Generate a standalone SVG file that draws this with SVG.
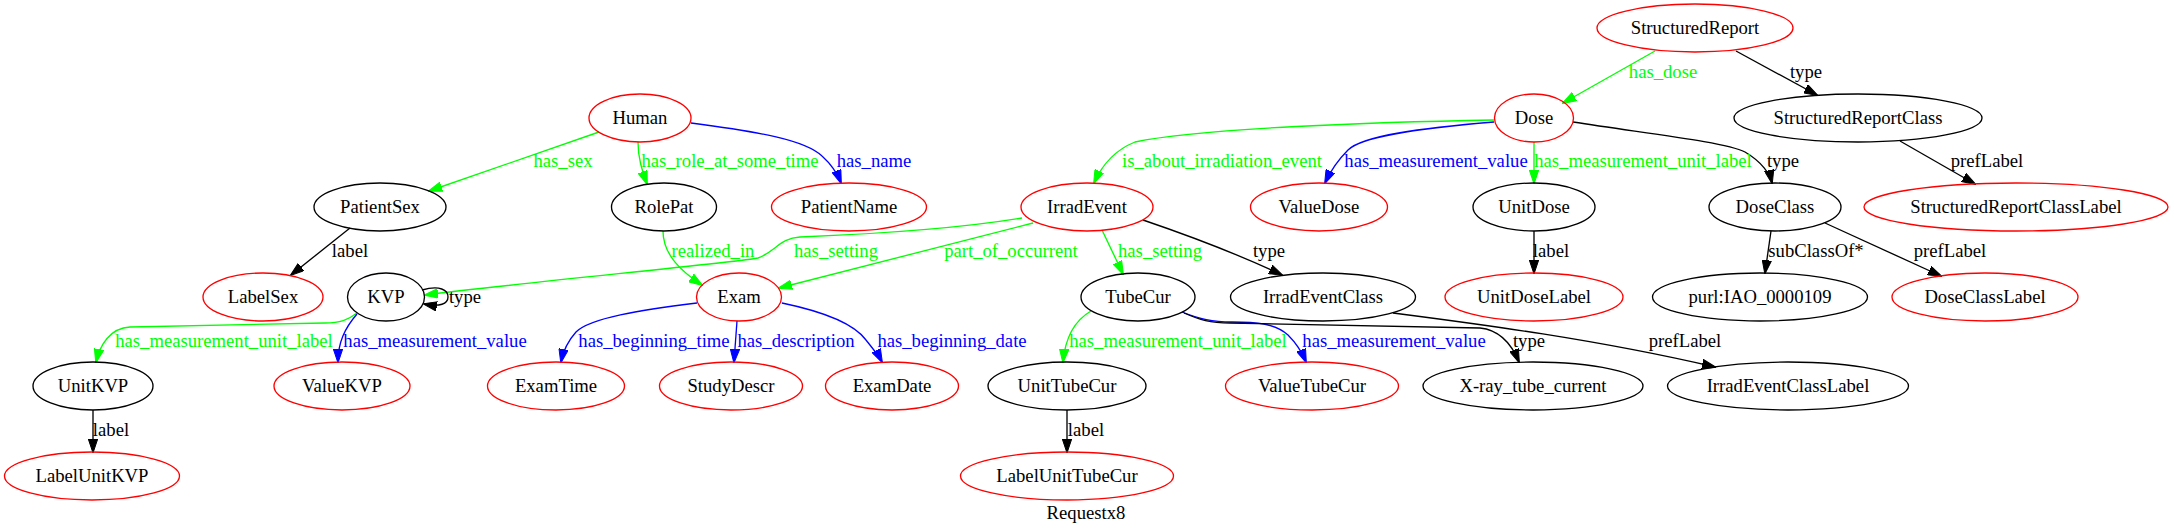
<svg xmlns="http://www.w3.org/2000/svg" width="2174" height="531" viewBox="0 0 2174 531">
<style>
.n ellipse{fill:none;stroke-width:1.33}
.r ellipse{stroke:#ff0000}
.b ellipse{stroke:#000000}
text{font-family:"Liberation Serif","Times New Roman",serif;font-size:18.67px;text-anchor:middle}
.n text{fill:#000}
#edges path{fill:none;stroke-width:1.33}
.k{stroke:#000}
.g{stroke:#00ff00}
.u{stroke:#0000ff}
.tk{fill:#000}
.tg{fill:#00ff00}
.tu{fill:#0000ff}
</style>
<defs>
<marker id="ak" viewBox="0 0 14 10" refX="13" refY="5" markerWidth="14" markerHeight="10" markerUnits="userSpaceOnUse" orient="auto"><path d="M0,0.3 L14,5 L0,9.7z" fill="#000" stroke="#000" stroke-width="1"/></marker>
<marker id="ag" viewBox="0 0 14 10" refX="13" refY="5" markerWidth="14" markerHeight="10" markerUnits="userSpaceOnUse" orient="auto"><path d="M0,0.3 L14,5 L0,9.7z" fill="#00ff00" stroke="#00ff00" stroke-width="1"/></marker>
<marker id="au" viewBox="0 0 14 10" refX="13" refY="5" markerWidth="14" markerHeight="10" markerUnits="userSpaceOnUse" orient="auto"><path d="M0,0.3 L14,5 L0,9.7z" fill="#0000ff" stroke="#0000ff" stroke-width="1"/></marker>
</defs>
<rect width="2174" height="531" fill="#fff"/>
<g id="edges">
<path class="g" marker-end="url(#ag)" d="M1655,51 L1563,103"/>
<text class="tg" x="1663" y="78">has_dose</text>
<path class="k" marker-end="url(#ak)" d="M1736,51 L1817,95"/>
<text class="tk" x="1806" y="78">type</text>
<path class="k" marker-end="url(#ak)" d="M1900,141 L1975,184"/>
<text class="tk" x="1987" y="167">prefLabel</text>
<path class="k" marker-end="url(#ak)" d="M1573,122 C1650,134 1725,142 1745,152 C1762,162 1770,174 1772,183"/>
<text class="tk" x="1783" y="167">type</text>
<path class="g" marker-end="url(#ag)" d="M1534,142 L1534,183"/>
<text class="tg" x="1643" y="167">has_measurement_unit_label</text>
<path class="u" marker-end="url(#au)" d="M1494,122 C1420,128 1362,136 1348,150 C1338,160 1330,172 1325,183"/>
<text class="tu" x="1436" y="167">has_measurement_value</text>
<path class="g" marker-end="url(#ag)" d="M1494,120 C1380,122 1200,128 1135,142 C1115,150 1102,165 1094,183"/>
<text class="tg" x="1222" y="167">is_about_irradiation_event</text>
<path class="g" marker-end="url(#ag)" d="M599,132 L429,191"/>
<text class="tg" x="563" y="167">has_sex</text>
<path class="g" marker-end="url(#ag)" d="M638,142 C638,158 642,170 647,184"/>
<text class="tg" x="730" y="167">has_role_at_some_time</text>
<path class="u" marker-end="url(#au)" d="M691,123 C760,132 805,140 822,156 C832,165 838,175 841,183"/>
<text class="tu" x="874" y="167">has_name</text>
<path class="k" marker-end="url(#ak)" d="M350,228 L291,275"/>
<text class="tk" x="350" y="257">label</text>
<path class="g" marker-end="url(#ag)" d="M663,231 C663,255 682,272 702,285"/>
<text class="tg" x="713" y="257">realized_in</text>
<path class="g" marker-end="url(#ag)" d="M1022,218 C950,230 850,235 800,237 C780,238 775,252 758,258 C740,262 520,283 425,295"/>
<text class="tg" x="836" y="257">has_setting</text>
<path class="g" marker-end="url(#ag)" d="M1033,223 L779,288"/>
<text class="tg" x="1011" y="257">part_of_occurrent</text>
<path class="g" marker-end="url(#ag)" d="M1102,230 L1123,274"/>
<text class="tg" x="1160" y="257">has_setting</text>
<path class="k" marker-end="url(#ak)" d="M1143,220 C1190,236 1240,255 1282,275"/>
<text class="tk" x="1269" y="257">type</text>
<path class="k" marker-end="url(#ak)" d="M1534,231 L1534,273"/>
<text class="tk" x="1551" y="257">label</text>
<path class="k" marker-end="url(#ak)" d="M1771,231 L1765,273"/>
<text class="tk" x="1816" y="257">subClassOf*</text>
<path class="k" marker-end="url(#ak)" d="M1825,223 L1941,276"/>
<text class="tk" x="1950" y="257">prefLabel</text>
<path class="k" marker-end="url(#ak)" d="M422,290 C440,285 448,290 448,297 C448,304 440,307 424,304"/>
<text class="tk" x="465" y="303">type</text>
<path class="g" marker-end="url(#ag)" d="M357,313 C348,320 340,323 325,323 L130,327 C110,328 100,345 96,362"/>
<text class="tg" x="224" y="347">has_measurement_unit_label</text>
<path class="u" marker-end="url(#au)" d="M357,314 C345,328 338,342 338,362"/>
<text class="tu" x="435" y="347">has_measurement_value</text>
<path class="k" marker-end="url(#ak)" d="M93,410 L93,452"/>
<text class="tk" x="111" y="436">label</text>
<path class="u" marker-end="url(#au)" d="M697,303 C640,310 590,318 576,332 C567,342 563,352 561,362"/>
<text class="tu" x="654" y="347">has_beginning_time</text>
<path class="u" marker-end="url(#au)" d="M737,321 L734,362"/>
<text class="tu" x="796" y="347">has_description</text>
<path class="u" marker-end="url(#au)" d="M782,303 C830,313 855,325 866,340 C874,350 879,356 882,362"/>
<text class="tu" x="952" y="347">has_beginning_date</text>
<path class="g" marker-end="url(#ag)" d="M1091,311 C1072,322 1065,340 1063,362"/>
<text class="tg" x="1178" y="347">has_measurement_unit_label</text>
<path class="u" marker-end="url(#au)" d="M1182,312 C1200,319 1212,322 1232,322 C1255,322 1275,323 1288,335 C1296,343 1302,352 1306,362"/>
<text class="tu" x="1394" y="347">has_measurement_value</text>
<path class="k" marker-end="url(#ak)" d="M1184,313 C1200,320 1210,323 1230,323 L1480,328 C1500,330 1512,345 1519,362"/>
<text class="tk" x="1529" y="347">type</text>
<path class="k" marker-end="url(#ak)" d="M1393,313 C1470,323 1590,338 1715,367"/>
<text class="tk" x="1685" y="347">prefLabel</text>
<path class="k" marker-end="url(#ak)" d="M1067,410 L1067,452"/>
<text class="tk" x="1086" y="436">label</text>
</g>
<g id="StructuredReport" class="n r"><ellipse cx="1695" cy="28" rx="98" ry="24"/><text x="1695" y="34">StructuredReport</text></g>
<g id="Human" class="n r"><ellipse cx="640" cy="118" rx="51" ry="24"/><text x="640" y="124">Human</text></g>
<g id="Dose" class="n r"><ellipse cx="1534" cy="118" rx="39.5" ry="24"/><text x="1534" y="124">Dose</text></g>
<g id="StructuredReportClass" class="n b"><ellipse cx="1858" cy="118" rx="124" ry="24"/><text x="1858" y="124">StructuredReportClass</text></g>
<g id="PatientSex" class="n b"><ellipse cx="380" cy="207" rx="66" ry="24"/><text x="380" y="213">PatientSex</text></g>
<g id="RolePat" class="n b"><ellipse cx="664" cy="207" rx="52.5" ry="24"/><text x="664" y="213">RolePat</text></g>
<g id="PatientName" class="n r"><ellipse cx="849" cy="207" rx="77.5" ry="24"/><text x="849" y="213">PatientName</text></g>
<g id="IrradEvent" class="n r"><ellipse cx="1087" cy="207" rx="66" ry="24"/><text x="1087" y="213">IrradEvent</text></g>
<g id="ValueDose" class="n r"><ellipse cx="1319" cy="207" rx="68.5" ry="24"/><text x="1319" y="213">ValueDose</text></g>
<g id="UnitDose" class="n b"><ellipse cx="1534" cy="207" rx="61" ry="24"/><text x="1534" y="213">UnitDose</text></g>
<g id="DoseClass" class="n b"><ellipse cx="1775" cy="207" rx="66" ry="24"/><text x="1775" y="213">DoseClass</text></g>
<g id="StructuredReportClassLabel" class="n r"><ellipse cx="2016" cy="207" rx="152" ry="24"/><text x="2016" y="213">StructuredReportClassLabel</text></g>
<g id="LabelSex" class="n r"><ellipse cx="263" cy="297" rx="60" ry="24"/><text x="263" y="303">LabelSex</text></g>
<g id="KVP" class="n b"><ellipse cx="386" cy="297" rx="38.5" ry="24"/><text x="386" y="303">KVP</text></g>
<g id="Exam" class="n r"><ellipse cx="739" cy="297" rx="42.5" ry="24"/><text x="739" y="303">Exam</text></g>
<g id="TubeCur" class="n b"><ellipse cx="1138" cy="297" rx="57" ry="24"/><text x="1138" y="303">TubeCur</text></g>
<g id="IrradEventClass" class="n b"><ellipse cx="1323" cy="297" rx="92.5" ry="24"/><text x="1323" y="303">IrradEventClass</text></g>
<g id="UnitDoseLabel" class="n r"><ellipse cx="1534" cy="297" rx="89" ry="24"/><text x="1534" y="303">UnitDoseLabel</text></g>
<g id="purl_IAO_0000109" class="n b"><ellipse cx="1760" cy="297" rx="107.5" ry="24"/><text x="1760" y="303">purl:IAO_0000109</text></g>
<g id="DoseClassLabel" class="n r"><ellipse cx="1985" cy="297" rx="93" ry="24"/><text x="1985" y="303">DoseClassLabel</text></g>
<g id="UnitKVP" class="n b"><ellipse cx="93" cy="386" rx="60" ry="24"/><text x="93" y="392">UnitKVP</text></g>
<g id="ValueKVP" class="n r"><ellipse cx="342" cy="386" rx="68" ry="24"/><text x="342" y="392">ValueKVP</text></g>
<g id="ExamTime" class="n r"><ellipse cx="556" cy="386" rx="68.5" ry="24"/><text x="556" y="392">ExamTime</text></g>
<g id="StudyDescr" class="n r"><ellipse cx="731" cy="386" rx="71.5" ry="24"/><text x="731" y="392">StudyDescr</text></g>
<g id="ExamDate" class="n r"><ellipse cx="892" cy="386" rx="66.5" ry="24"/><text x="892" y="392">ExamDate</text></g>
<g id="UnitTubeCur" class="n b"><ellipse cx="1067" cy="386" rx="79" ry="24"/><text x="1067" y="392">UnitTubeCur</text></g>
<g id="ValueTubeCur" class="n r"><ellipse cx="1312" cy="386" rx="86.5" ry="24"/><text x="1312" y="392">ValueTubeCur</text></g>
<g id="X-ray_tube_current" class="n b"><ellipse cx="1533" cy="386" rx="110" ry="24"/><text x="1533" y="392">X-ray_tube_current</text></g>
<g id="IrradEventClassLabel" class="n b"><ellipse cx="1788" cy="386" rx="120.5" ry="24"/><text x="1788" y="392">IrradEventClassLabel</text></g>
<g id="LabelUnitKVP" class="n r"><ellipse cx="92" cy="476" rx="87.5" ry="24"/><text x="92" y="482">LabelUnitKVP</text></g>
<g id="LabelUnitTubeCur" class="n r"><ellipse cx="1067" cy="476" rx="106.5" ry="24"/><text x="1067" y="482">LabelUnitTubeCur</text></g>
<text x="1086" y="519" fill="#000">Requestx8</text>
</svg>
